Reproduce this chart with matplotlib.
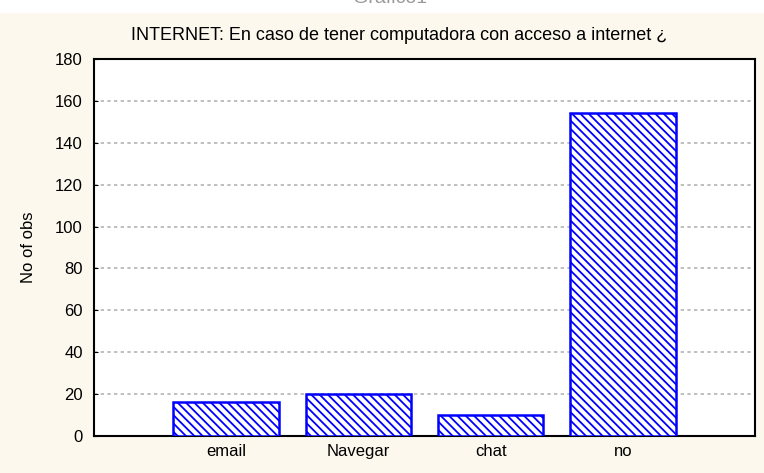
import matplotlib.pyplot as plt

plt.rcParams['font.family'] = ['Liberation Sans', 'DejaVu Sans']
plt.rcParams['hatch.linewidth'] = 1.3
plt.rcParams['hatch.color'] = '#0000FF'

categories = ['email', 'Navegar', 'chat', 'no']
counts = [16, 20, 10, 154]
yticks = [0, 20, 40, 60, 80, 100, 120, 140, 160, 180]

bg = '#FDF8EE'
fig = plt.figure(figsize=(7.64, 4.73), dpi=100, facecolor=bg)
# white strip at the very top with the clipped chart name
fig.patches.append(plt.Rectangle((0, 1 - 12 / 473), 1, 12 / 473,
                                 transform=fig.transFigure, color='white', zorder=0))
fig.text(0.51, 1 - 3 / 473, 'Gráfico1', ha='center', va='baseline',
         fontsize=14, color='#999999')

ax = fig.add_axes([94 / 764, 1 - 436 / 473, 661 / 764, 377 / 473])
ax.set_facecolor('white')

x = list(range(1, len(categories) + 1))
ax.bar(x, counts, width=0.8, color='white', edgecolor='#0000FF',
       linewidth=1.8, hatch='\\\\\\\\', zorder=3)

ax.set_xlim(0, 5)
ax.set_ylim(0, 180)
ax.set_xticks(x)
ax.set_xticklabels(categories, fontsize=12)
ax.set_yticks(yticks)
ax.tick_params(axis='y', labelsize=12, direction='in', length=3, pad=8)
ax.tick_params(axis='x', direction='in', length=3, pad=6)
ax.yaxis.grid(True, color='#B4B4B4', linestyle=(0, (2, 2)), linewidth=1.2, zorder=0)
for s in ax.spines.values():
    s.set_linewidth(1.5)
    s.set_color('black')

ax.set_ylabel('No of obs', fontsize=12, labelpad=14)
ax.set_title('INTERNET: En caso de tener computadora con acceso a internet ¿',
             fontsize=13, pad=14, x=0.462)

fig.savefig('out.png', dpi=100, facecolor=bg)
